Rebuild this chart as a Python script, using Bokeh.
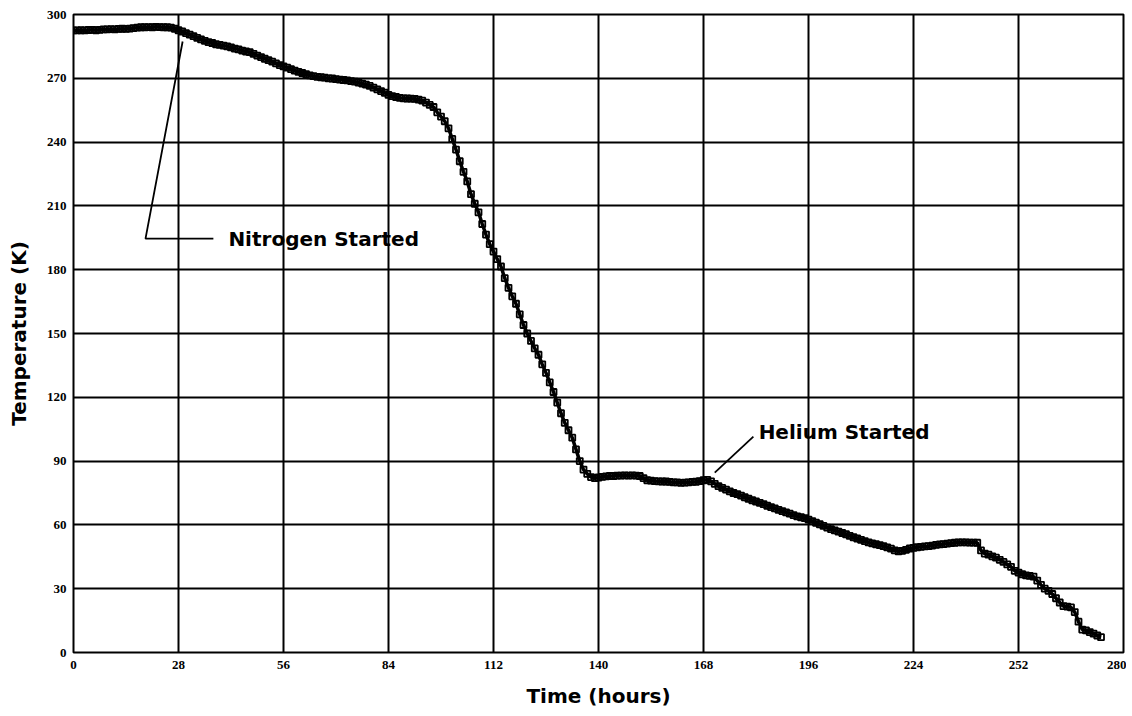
from bokeh.plotting import figure
from bokeh.models import FixedTicker, Range1d, ColumnDataSource
from bokeh.embed import file_html
from bokeh.resources import INLINE
from bokeh.core.properties import value

# ---- data ----
hours = list(range(0, 275))
temperature_K = [
    292.5, 292.5, 292.6, 292.5, 292.7, 292.8, 292.6, 292.8, 293.0, 293.0,
    293.1, 293.0, 293.2, 293.3, 293.2, 293.4, 293.6, 293.8, 294.0, 294.0,
    294.1, 294.0, 294.2, 294.1, 294.0, 294.0, 293.8, 293.3, 292.6, 292.0,
    291.2, 290.5, 289.8, 289.0, 288.3, 287.6, 287.0, 286.6, 286.0, 285.7,
    285.4, 285.0, 284.5, 284.0, 283.6, 283.0, 282.6, 282.3, 281.5, 280.7,
    280.0, 279.2, 278.5, 277.8, 277.0, 276.2, 275.6, 275.0, 274.3, 273.6,
    273.0, 272.5, 272.0, 271.4, 271.0, 270.7, 270.5, 270.3, 270.0, 269.9,
    269.6, 269.4, 269.2, 269.0, 268.7, 268.4, 268.0, 267.5, 267.0, 266.4,
    265.6, 264.8, 264.0, 263.2, 262.2, 261.6, 261.2, 260.8, 260.6, 260.5,
    260.4, 260.3, 260.0, 259.5, 258.6, 257.5, 256.5, 254.0, 252.0, 249.8,
    246.5, 241.5, 236.5, 231.0, 226.0, 221.5, 215.5, 211.0, 207.0, 201.5,
    196.5, 192.0, 188.5, 185.0, 181.5, 176.0, 171.5, 167.5, 164.0, 159.0,
    154.0, 150.0, 146.5, 143.0, 140.0, 135.5, 131.5, 127.0, 122.5, 117.5,
    112.5, 108.0, 104.5, 101.0, 95.5, 90.0, 86.0, 84.0, 82.5, 82.0,
    82.3, 82.6, 82.8, 83.0, 83.0, 83.2, 83.2, 83.3, 83.2, 83.3,
    83.2, 83.0, 82.0, 81.0, 80.8, 80.6, 80.5, 80.4, 80.4, 80.2,
    80.0, 80.0, 79.8, 79.9, 80.0, 80.2, 80.3, 80.6, 81.0, 81.2,
    80.5, 79.3, 78.2, 77.4, 76.6, 75.8, 75.0, 74.5, 73.8, 73.0,
    72.3, 71.6, 71.0, 70.4, 69.8, 69.0, 68.4, 67.8, 67.1, 66.5,
    65.9, 65.3, 64.6, 64.0, 63.6, 63.2, 62.5, 61.8, 61.0, 60.3,
    59.5, 58.7, 58.0, 57.4, 56.8, 56.2, 55.6, 54.8, 54.2, 53.6,
    53.0, 52.4, 51.8, 51.3, 50.9, 50.5, 50.0, 49.4, 48.8, 48.0,
    47.6, 47.8, 48.3, 48.9, 49.2, 49.5, 49.7, 49.9, 50.0, 50.3,
    50.6, 50.8, 51.0, 51.2, 51.4, 51.6, 51.8, 51.8, 51.8, 51.7,
    51.7, 51.6, 48.0, 46.5, 46.0, 45.2, 44.6, 43.6, 42.6, 41.4,
    40.3, 38.4, 37.6, 36.8, 36.3, 36.0, 35.7, 33.8, 31.8, 30.0,
    29.0, 27.5, 25.5, 23.5, 21.8, 21.6, 21.2, 19.0, 14.5, 10.8,
    10.4, 9.6, 8.9, 8.0, 7.2,
]
x_ticks = [0, 28, 56, 84, 112, 140, 168, 196, 224, 252, 280]
y_ticks = [0, 30, 60, 90, 120, 150, 180, 210, 240, 270, 300]

nitrogen_label = "Nitrogen Started"
helium_label = "Helium Started"

# ---- figure ----
p = figure(width=1126, height=710, output_backend="svg", toolbar_location=None,
           x_range=Range1d(0, 280), y_range=Range1d(0, 300),
           min_border_left=73, min_border_right=3, min_border_top=14,
           min_border_bottom=57, background_fill_color="white",
           border_fill_color="white")

p.outline_line_color = "black"
p.outline_line_width = 2

for ax, ticks in ((p.xaxis, x_ticks), (p.yaxis, y_ticks)):
    ax.ticker = FixedTicker(ticks=ticks)
    ax.axis_line_color = None
    ax.major_tick_out = 0
    ax.major_tick_in = 0
    ax.minor_tick_out = 0
    ax.minor_tick_in = 0
    ax.major_label_text_font = "Liberation Serif"
    ax.major_label_text_font_style = "bold"
    ax.major_label_text_font_size = "13px"
    ax.major_label_text_color = "black"
    ax.axis_label_text_font = "DejaVu Sans"
    ax.axis_label_text_font_style = "bold"
    ax.axis_label_text_font_size = "20px"
    ax.axis_label_text_color = "black"

p.xaxis.axis_label = "Time (hours)"
p.yaxis.axis_label = "Temperature (K)"
p.xaxis.major_label_standoff = 8
p.yaxis.major_label_standoff = 7
p.xaxis.axis_label_standoff = 12
p.yaxis.axis_label_standoff = 13

p.xgrid.ticker = FixedTicker(ticks=x_ticks)
p.ygrid.ticker = FixedTicker(ticks=y_ticks)
for g in (p.xgrid, p.ygrid):
    g.grid_line_color = "black"
    g.grid_line_width = 2
    g.grid_line_alpha = 1.0

src = ColumnDataSource(data=dict(t=hours, T=temperature_K))
p.line("t", "T", source=src, line_color="black", line_width=3.5)
p.scatter("t", "T", source=src, marker="square", size=6, fill_color=None,
          line_color="black", line_width=1.8)

# annotations
p.line([29.1, 19.2, 37.3], [287.3, 194.6, 194.6], line_color="black", line_width=1.8)
p.line([171.0, 181.3], [84.6, 101.5], line_color="black", line_width=1.8)
p.text(x=[41.3], y=[194.6], text=[nitrogen_label], text_font=value("DejaVu Sans"),
       text_font_style="bold", text_font_size="20px", text_baseline="middle",
       text_align="left", text_color="black")
p.text(x=[182.7], y=[103.9], text=[helium_label], text_font=value("DejaVu Sans"),
       text_font_style="bold", text_font_size="20px", text_baseline="middle",
       text_align="left", text_color="black")

open("out.html", "w").write(file_html(p, INLINE))
